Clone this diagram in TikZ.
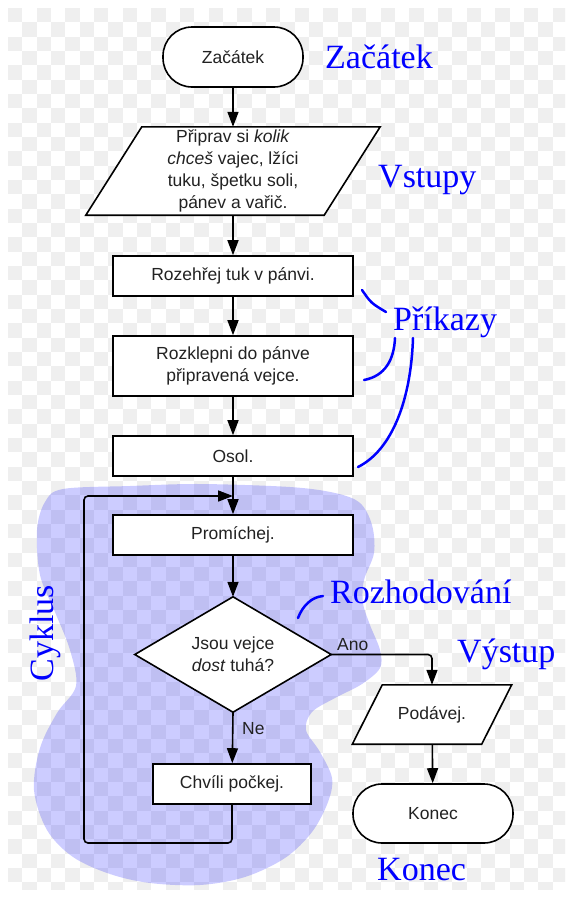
\documentclass[tikz,border=0pt]{standalone}
\usepackage{fontspec}
\setmainfont{Liberation Sans}
\newfontfamily\lblfont{Liberation Serif}
\usetikzlibrary{arrows.meta}
\definecolor{checkgray}{RGB}{239,239,239}
\definecolor{txt}{RGB}{34,34,34}
\definecolor{lblblue}{RGB}{0,0,255}
\pgfdeclarelayer{bg}
\pgfdeclarelayer{shapes}
\pgfsetlayers{bg,shapes,main}
\begin{document}
\begin{tikzpicture}[x=1pt,y=-1pt,
  flowtext/.style={font=\fontsize{17.5}{22}\selectfont, text=txt, align=center, inner sep=0pt},
  box/.style={flowtext, draw, line width=1.6pt, fill=white, minimum width=240pt, minimum height=40pt},
  term/.style={flowtext, draw, line width=1.6pt, fill=white, minimum height=60pt, rounded corners=29pt},
  ghost/.style={flowtext},
  outline/.style={draw, line width=1.6pt, fill=white, line join=miter},
  arr/.style={line width=1.6pt, -{Triangle[length=15pt,width=11pt]}},
  conn/.style={line width=1.6pt},
  lbl/.style={font=\lblfont\fontsize{34}{34}\selectfont, text=lblblue, inner sep=0pt},
  small/.style={font=\fontsize{17.5}{22}\selectfont, text=txt, inner sep=0pt},
  brace/.style={draw=lblblue, line width=2.5pt, line cap=round}
]
\useasboundingbox (0,0) rectangle (573,897);

% background checker and blob
\begin{pgfonlayer}{bg}
\fill[white] (0,0) rectangle (573,897);
\begin{scope}
\clip (8,8) rectangle (565,889);
\foreach \i in {0,...,38} {
  \foreach \j in {0,...,61} {
    \pgfmathtruncatemacro\p{mod(\i+\j,2)}
    \ifnum\p=0
      \fill[checkgray] ({8+\i*14.333},{8+\j*14.333}) rectangle ++(14.333,14.333);
    \fi
  }
}
\end{scope}
\fill[lblblue, fill opacity=0.2] plot[smooth cycle, tension=0.55] coordinates {
 (63,489) (130,486) (200,484) (290,487) (335,493) (360,503) (372,525) (374,553)
 (364,580) (363,603) (370,625) (380,650) (380,668) (362,684) (335,698) (312,712)
 (306,730) (320,752) (332,778) (328,802) (312,832) (285,858) (245,877) (200,885)
 (150,883) (110,874) (73,857) (47,830) (34,790) (40,748) (57,713) (76,686)
 (70,650) (55,612) (40,575) (37,530) (45,502)};
\end{pgfonlayer}

% nodes
\node[term, minimum width=140pt] (start) at (233,57) {Začátek};
\node[ghost, minimum width=238pt, minimum height=88pt] (inp) at (233,171)
  {Připrav si \textit{kolik}\\ \textit{chceš} vajec, lžíci\\ tuku, špetku soli,\\ pánev a vařič.};
\node[box] (heat) at (233,276) {Rozehřej tuk v pánvi.};
\node[box, minimum height=60pt] (crack) at (233,366) {Rozklepni do pánve\\ připravená vejce.};
\node[box] (salt) at (233,456) {Osol.};
\node[box] (stir) at (233,535) {Promíchej.};
\node[ghost, minimum width=196pt, minimum height=115pt] (dec) at (233,654.5)
  {Jsou vejce\\ \textit{dost} tuhá?};
\node[box, minimum width=158pt] (wait) at (232,784) {Chvíli počkej.};
\node[ghost, minimum width=129pt, minimum height=59pt] (out) at (432,714.5) {Podávej.};
\node[term, minimum width=160pt, minimum height=59pt] (end) at (433,813.5) {Konec};

\begin{pgfonlayer}{shapes}
\path[outline] ([xshift=28pt]inp.north west) -- ([xshift=28pt]inp.north east)
  -- ([xshift=-28pt]inp.south east) -- ([xshift=-28pt]inp.south west) -- cycle;
\path[outline] (dec.north) -- (dec.east) -- (dec.south) -- (dec.west) -- cycle;
\path[outline] ([xshift=15pt]out.north west) -- ([xshift=15pt]out.north east)
  -- ([xshift=-15pt]out.south east) -- ([xshift=-15pt]out.south west) -- cycle;
\end{pgfonlayer}

% connectors
\coordinate (loopbl) at (84,843);
\coordinate (loopin) at (233,496);
\draw[arr] (start) -- (inp);
\draw[arr] (inp) -- (heat);
\draw[arr] (heat) -- (crack);
\draw[arr] (crack) -- (salt);
\draw[arr] (salt) -- (stir);
\draw[arr] (stir) -- (dec.north);
\draw[arr] (dec.south) -- (wait);
\draw[arr, rounded corners=4pt] (wait.south) |- (loopbl) |- (loopin);
\draw[arr, rounded corners=4pt] (dec.east) -| (out.north);
\draw[arr] (out) -- (end);

% edge labels
\node[small, anchor=base west] (ano) at (337,650) {Ano};
\node[small, anchor=base west] (ne) at (242,734) {Ne};

% blue annotation labels
\node[lbl, anchor=base west] (lstart) at (325,68) {Začátek};
\node[lbl, anchor=base west] (lin) at (378,187) {Vstupy};
\node[lbl, anchor=base west] (lcmd) at (393,330) {Příkazy};
\node[lbl, anchor=base west] (ldec) at (330,603) {Rozhodování};
\node[lbl, anchor=base west] (lout) at (457,662) {Výstup};
\node[lbl, anchor=base west] (lend) at (377,880) {Konec};
\node[lbl, rotate=90, anchor=base] (lloop) at (53,633) {Cyklus};

% blue braces
\draw[brace] (362,290) .. controls (371,303) .. (386,312);
\draw[brace] (364,380) .. controls (385,376) and (394,360) .. (395,338);
\draw[brace] (358,467) .. controls (392,450) and (411,400) .. (413,338);
\draw[brace] (298,618) .. controls (303,605) and (312,597) .. (323,596);
\end{tikzpicture}
\end{document}
